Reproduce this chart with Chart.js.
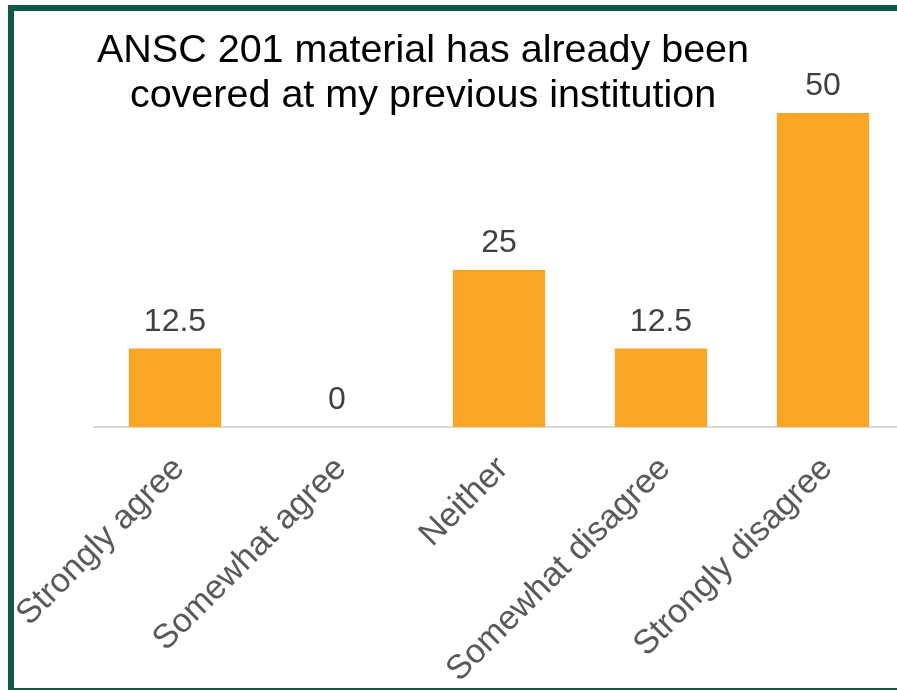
<!DOCTYPE html>
<html>
<head>
<meta charset="utf-8">
<title>ANSC 201 survey</title>
<script src="https://cdn.jsdelivr.net/npm/chart.js@4.4.1/dist/chart.umd.min.js"></script>
<style>
  html, body { margin: 0; padding: 0; background: #fff; overflow: hidden; }
  body { width: 897px; height: 690px; position: relative; }
  #frame {
    position: absolute; left: 8px; top: 5px;
    width: 1000px; height: 689px;
    box-sizing: border-box;
    border: 6px solid #0d5a47;
  }
  #wrap { position: absolute; left: 0; top: 0; width: 904px; height: 690px; }
</style>
</head>
<body>
<div id="frame"></div>
<div id="wrap"><canvas id="chart"></canvas></div>
<script>
const categories = ['Strongly agree', 'Somewhat agree', 'Neither', 'Somewhat disagree', 'Strongly disagree'];
const percents = [12.5, 0, 25, 12.5, 50];
const titleLines = ['ANSC 201 material has already been', 'covered at my previous institution'];

const FONT = '"Liberation Sans", Arial, sans-serif';

// value above each bar, placed from the bar element itself
const valueLabels = {
  id: 'valueLabels',
  afterDatasetsDraw(chart) {
    const ctx = chart.ctx;
    const meta = chart.getDatasetMeta(0);
    ctx.save();
    ctx.font = '32px ' + FONT;
    ctx.fillStyle = '#404040';
    ctx.textAlign = 'center';
    ctx.textBaseline = 'alphabetic';
    meta.data.forEach((bar, i) => {
      ctx.fillText(String(percents[i]), bar.x, bar.y - 18);
    });
    ctx.restore();
  }
};

// two-line heading, sits over the upper left part of the plot
const heading = {
  id: 'heading',
  afterDraw(chart) {
    const ctx = chart.ctx;
    ctx.save();
    ctx.font = '39.5px ' + FONT;
    ctx.fillStyle = '#000';
    ctx.textAlign = 'center';
    ctx.textBaseline = 'alphabetic';
    titleLines.forEach((line, i) => {
      ctx.fillText(line, 423, 62 + i * 45);
    });
    ctx.restore();
  }
};

const data = {
  labels: categories,
  datasets: [{
    data: percents,
    backgroundColor: '#f9a626',
    borderWidth: 0,
    categoryPercentage: 1,
    barPercentage: 0.57
  }]
};

const config = {
  type: 'bar',
  data: data,
  options: {
    responsive: true,
    maintainAspectRatio: false,
    animation: false,
    layout: { padding: { left: 94, right: 0, top: 113, bottom: 0 } },
    plugins: {
      legend: { display: false },
      tooltip: { enabled: false }
    },
    scales: {
      x: {
        grid: { display: false, drawTicks: false },
        border: { display: true, color: '#d9d9d9', width: 2 },
        ticks: {
          color: '#595959',
          font: { family: FONT, size: 34 },
          minRotation: 45,
          maxRotation: 45,
          padding: 22,
          labelOffset: 4
        },
        afterFit(scale) {
          // fixed axis band; long rotated labels may run past the left edge
          scale.height = 263;
          scale.paddingLeft = 0;
          scale.paddingRight = 0;
        }
      },
      y: {
        display: false,
        min: 0,
        max: 50
      }
    }
  },
  plugins: [valueLabels, heading]
};

var ctx = document.getElementById('chart');
var myChart = new Chart(ctx, config);
</script>
</body>
</html>
